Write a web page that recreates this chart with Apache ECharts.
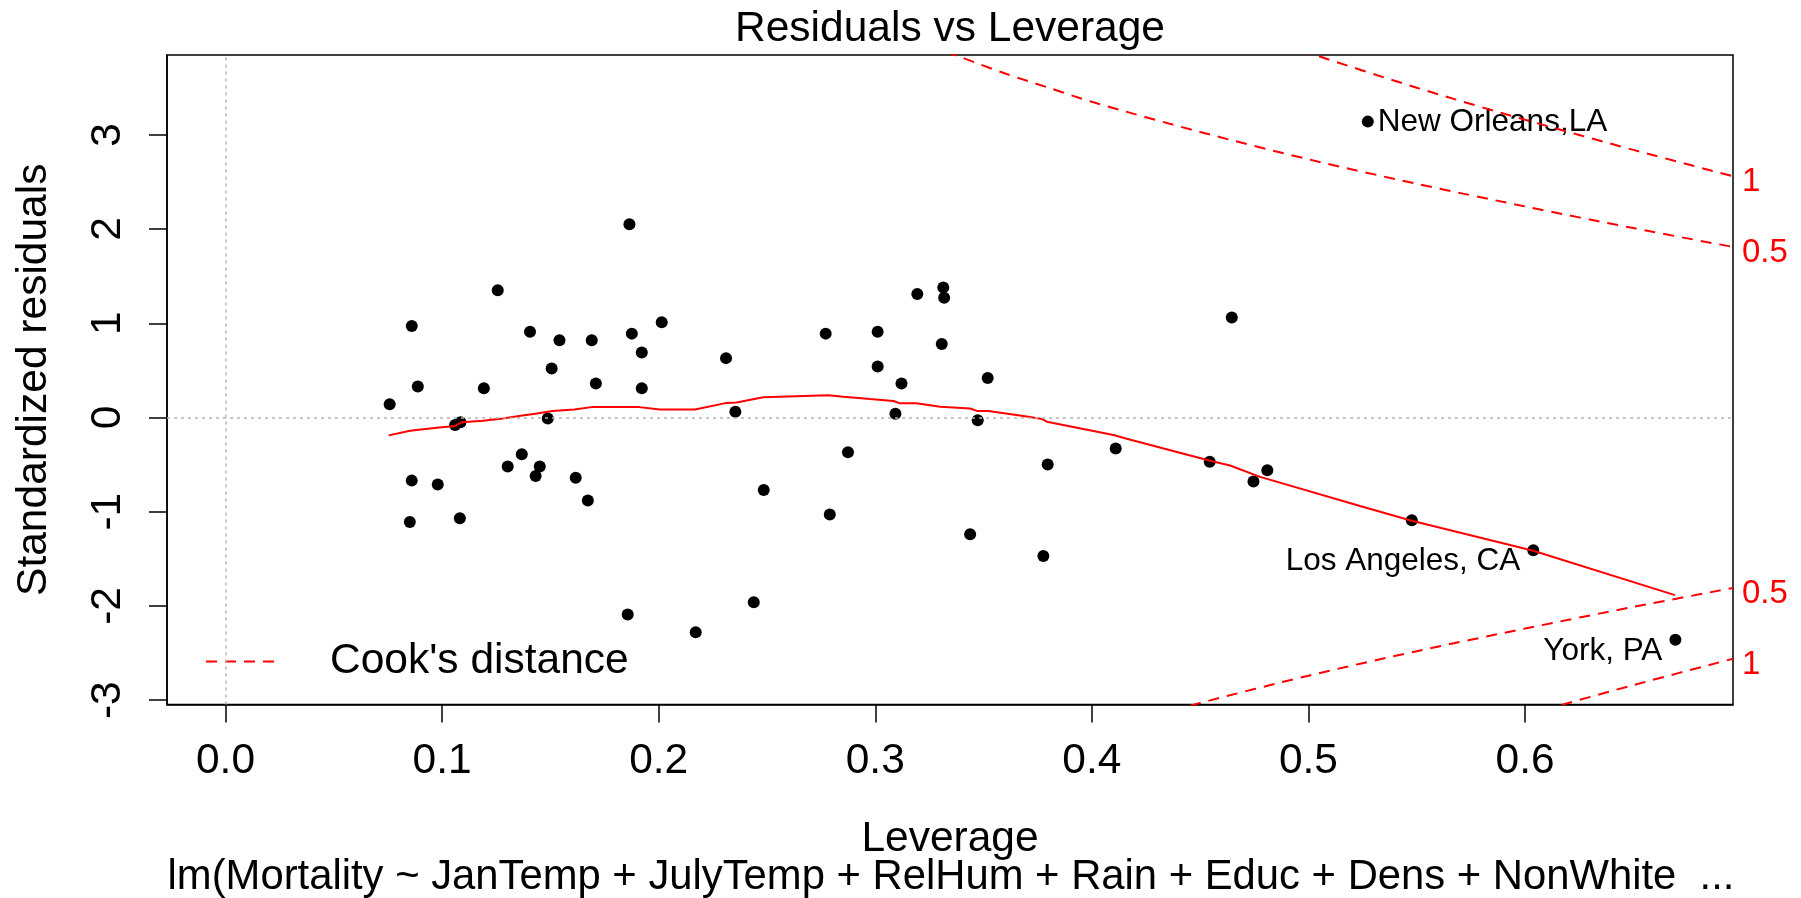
<!DOCTYPE html>
<html>
<head>
<meta charset="utf-8">
<title>Residuals vs Leverage</title>
<script src="https://cdn.jsdelivr.net/npm/echarts@6.0.0/dist/echarts.min.js"></script>
<style>
  html, body { margin: 0; padding: 0; background: #fff; }
  #main { width: 1801px; height: 898px; }
</style>
</head>
<body>
<div id="main"></div>
<script>
// leverage / standardized residual for each city
var leverage = [
  0.1865, 0.1257, 0.0860, 0.1406, 0.2014, 0.1542, 0.1691, 0.1876, 0.1922, 0.2311,
  0.2771, 0.1506, 0.0888, 0.1193, 0.1710, 0.1922, 0.0758, 0.2354, 0.1488, 0.1060,
  0.1085, 0.1368, 0.1303, 0.1451, 0.1432, 0.0860, 0.0980, 0.1617, 0.1673, 0.0851,
  0.1082, 0.2485, 0.2874, 0.2790, 0.1857, 0.2171, 0.2439, 0.3194, 0.3314, 0.3318,
  0.3011, 0.3307, 0.3011, 0.3121, 0.3519, 0.3093, 0.3473, 0.4646, 0.3796, 0.4110,
  0.4544, 0.4810, 0.4746, 0.3438, 0.3776, 0.5477, 0.6038, 0.6694, 0.5274
];
var stdResid = [
  2.05, 1.35, 0.97, 0.91, 1.01, 0.82, 0.82, 0.89, 0.69, 0.63,
  0.89, 0.52, 0.33, 0.31, 0.36, 0.31, 0.14, 0.06, -0.01, -0.08,
  -0.05, -0.39, -0.52, -0.52, -0.62, -0.67, -0.71, -0.64, -0.88, -1.11,
  -1.07, -0.77, -0.37, -1.03, -2.09, -2.28, -1.96, 1.31, 1.38, 1.27,
  0.91, 0.78, 0.54, 0.36, 0.42, 0.04, -0.03, 1.06, -0.50, -0.33,
  -0.47, -0.56, -0.68, -1.24, -1.47, -1.09, -1.41, -2.36, 3.14
];
// labelled points
var labelIdx = [56, 57, 58];
var labelText = ['Los Angeles, CA', 'York, PA', 'New Orleans,LA'];

// red smoother
var smoothLev = [0.0754, 0.0852, 0.0975, 0.106, 0.109, 0.119, 0.128, 0.137, 0.143, 0.151,
  0.161, 0.169, 0.191, 0.2006, 0.2168, 0.2314, 0.236, 0.2483, 0.2783, 0.2853,
  0.2976, 0.3084, 0.3114, 0.319, 0.330, 0.3438, 0.3469, 0.3522, 0.370, 0.3769,
  0.3792, 0.410, 0.4161, 0.4546, 0.4638, 0.4777, 0.5238, 0.5477, 0.6038, 0.6692];
var smoothRes = [-0.19, -0.14, -0.11, -0.09, -0.05, -0.035, -0.01, 0.02, 0.04, 0.07,
  0.085, 0.11, 0.11, 0.085, 0.085, 0.155, 0.16, 0.215, 0.235, 0.22,
  0.195, 0.175, 0.15, 0.15, 0.115, 0.095, 0.07, 0.07, 0.01, -0.015,
  -0.045, -0.185, -0.225, -0.46, -0.51, -0.63, -0.94, -1.095, -1.415, -1.885];

// Cook's distance contours
var cook05UpLev = [0.30, 0.32, 0.34, 0.36, 0.38, 0.40, 0.45, 0.50, 0.55, 0.60, 0.65, 0.696];
var cook05UpRes = [4.18, 3.99, 3.82, 3.65, 3.50, 3.35, 3.03, 2.74, 2.48, 2.24, 2.01, 1.81];
var cook1UpLev = [0.48, 0.50, 0.55, 0.60, 0.65, 0.696];
var cook1UpRes = [4.03, 3.87, 3.50, 3.16, 2.84, 2.56];
var cook05DnLev = [0.42, 0.45, 0.50, 0.55, 0.60, 0.65, 0.696];
var cook05DnRes = [-3.22, -3.03, -2.74, -2.48, -2.24, -2.01, -1.81];
var cook1DnLev = [0.60, 0.62, 0.65, 0.696];
var cook1DnRes = [-3.16, -3.03, -2.84, -2.56];

var xTicks = [0.0, 0.1, 0.2, 0.3, 0.4, 0.5, 0.6];
var yTicks = [-3, -2, -1, 0, 1, 2, 3];

var FONT = '"Liberation Sans", Arial, Helvetica, sans-serif';
var FS = 42.5;

function pairs(xs, ys) {
  var out = [];
  for (var i = 0; i < xs.length; i++) out.push([xs[i], ys[i]]);
  return out;
}

var points = pairs(leverage, stdResid).map(function (p, i) {
  var k = labelIdx.indexOf(i);
  if (k < 0) return p;
  var right = labelText[k] === 'New Orleans,LA';
  return {
    value: p,
    label: {
      show: true,
      formatter: labelText[k],
      position: right ? 'right' : 'left',
      distance: right ? 4 : 7,
      offset: right ? [0, 1] : [0, 11],
      color: '#000',
      fontSize: 31.5,
      fontFamily: FONT
    }
  };
});

function cookSeries(xs, ys, text) {
  return {
    name: "Cook's distance",
    type: 'line',
    data: pairs(xs, ys),
    symbol: 'none',
    smooth: 0.3,
    clip: true,
    z: 4,
    itemStyle: { color: '#ff0000' },
    lineStyle: { color: '#ff0000', width: 2, type: [11, 8] },
    endLabel: {
      show: true,
      formatter: text,
      color: '#ff0000',
      fontSize: 33,
      fontFamily: FONT,
      distance: 9,
      offset: [0, 6]
    }
  };
}

var chart = echarts.init(document.getElementById('main'), null, { renderer: 'canvas' });

chart.setOption({
  animation: false,
  backgroundColor: '#fff',
  grid: {
    left: 167, top: 55, width: 1566, height: 649.5,
    show: true, borderColor: '#000', borderWidth: 1.5, backgroundColor: 'transparent'
  },
  graphic: [
    {
      type: 'text', x: 950, y: 29, silent: true,
      style: { text: 'Residuals vs Leverage', fontSize: FS, fontFamily: FONT, fill: '#000',
        align: 'center', verticalAlign: 'middle' }
    },
    {
      type: 'text', x: 951, y: 877, silent: true,
      style: { text: 'lm(Mortality ~ JanTemp + JulyTemp + RelHum + Rain + Educ + Dens + NonWhite  ...',
        fontSize: 41.8, fontFamily: FONT, fill: '#000', align: 'center', verticalAlign: 'middle' }
    }
  ],
  legend: {
    data: ["Cook's distance"],
    left: 205, top: 640, padding: 0,
    itemWidth: 76, itemHeight: 14,
    selectedMode: false,
    itemStyle: { color: 'rgba(0,0,0,0)', borderColor: 'rgba(0,0,0,0)', borderWidth: 0 },
    textStyle: { fontSize: FS, fontFamily: FONT, color: '#000', padding: [22, 0, 0, 43] }
  },
  xAxis: {
    type: 'value', min: -0.027, max: 0.696,
    name: 'Leverage', nameLocation: 'middle', nameGap: 113.5,
    nameTextStyle: { fontSize: FS, fontFamily: FONT, color: '#000' },
    axisLine: { show: true, onZero: false, lineStyle: { color: '#000', width: 1.5 } },
    axisTick: { show: true, inside: false, length: 18, customValues: xTicks,
      lineStyle: { color: '#000', width: 1.5 } },
    axisLabel: { customValues: xTicks, margin: 35, fontSize: FS, fontFamily: FONT, color: '#000',
      formatter: function (v) { return v.toFixed(1); } },
    splitLine: { show: false }
  },
  yAxis: {
    type: 'value', min: -3.046, max: 3.847,
    name: 'Standardized residuals', nameLocation: 'middle', nameGap: 111,
    nameTextStyle: { fontSize: FS, fontFamily: FONT, color: '#000' },
    axisLine: { show: true, onZero: false, lineStyle: { color: '#000', width: 1.5 } },
    axisTick: { show: true, inside: false, length: 18, customValues: yTicks,
      lineStyle: { color: '#000', width: 1.5 } },
    axisLabel: { customValues: yTicks, margin: 37, rotate: 90, fontSize: FS, fontFamily: FONT, color: '#000' },
    splitLine: { show: false }
  },
  series: [
    {
      name: 'points',
      type: 'scatter',
      data: points,
      symbol: 'circle',
      symbolSize: 12,
      z: 3,
      itemStyle: { color: '#000', opacity: 1 },
      markLine: {
        silent: true,
        symbol: 'none',
        label: { show: false },
        lineStyle: { color: '#b4b4b4', type: [3, 4], width: 1.5, opacity: 1 },
        data: [{ yAxis: 0 }, { xAxis: 0 }]
      }
    },
    {
      name: 'smooth',
      type: 'line',
      data: pairs(smoothLev, smoothRes),
      symbol: 'none',
      z: 4,
      lineStyle: { color: '#ff0000', width: 2 }
    },
    cookSeries(cook05UpLev, cook05UpRes, '0.5'),
    cookSeries(cook1UpLev, cook1UpRes, '1'),
    cookSeries(cook05DnLev, cook05DnRes, '0.5'),
    cookSeries(cook1DnLev, cook1DnRes, '1')
  ]
});
</script>
</body>
</html>
